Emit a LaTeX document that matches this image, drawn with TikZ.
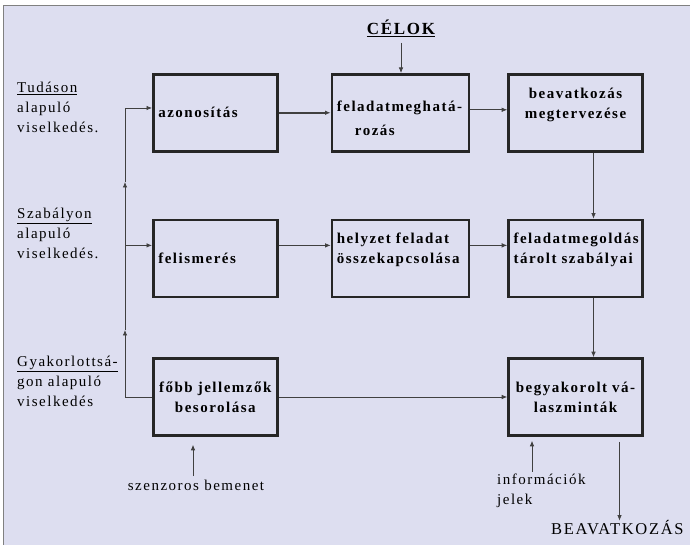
\documentclass[tikz,border=0pt]{standalone}
\usepackage{fontspec}
\setmainfont{Liberation Serif}[LetterSpace=10]
\usetikzlibrary{arrows.meta,positioning}
\definecolor{lavender}{RGB}{221,222,240}

\begin{document}
\begin{tikzpicture}[
  x=1pt, y=1pt,
  node distance=66pt and 52pt,
  box/.style={draw=black!85, line width=2.6pt, minimum height=77pt, inner sep=5pt, font=\fontsize{15}{20}\selectfont\bfseries},
  lbl/.style={align=left, anchor=north west, inner sep=0pt, font=\fontsize{15}{20}\selectfont},
  arr/.style={-{Latex[length=5.5pt,width=4.5pt]}, line width=0.7pt, draw=black!75},
  line/.style={line width=0.7pt, draw=black!75}
]
\useasboundingbox (0,0) rectangle (690,545);
\filldraw[fill=lavender, draw=gray, line width=1pt] (3,-10) rectangle (700,539);

% boxes
\node[box, anchor=north west, text width=114pt, align=left] (azon) at (152,472) {azonosítás};
\node[box, right=of azon, text width=127pt, align=left, text height=22pt] (felad) {feladatmeghatá-\\[4pt]\hspace*{18pt}rozás};
\node[box, right=37pt of felad, text width=124pt, align=center, text depth=40pt] (beav) {beavatkozás\\megtervezése};
\node[box, below=of azon, text width=114pt, align=left] (felism) {felismerés};
\node[box, below=of felad, text width=127pt, align=left, text depth=40pt] (helyzet) {helyzet~feladat\\összekapcsolása};
\node[box, below=of beav, text width=124pt, align=left, text depth=40pt] (szab) {feladatmegoldás\\tárolt~szabályai};
\node[box, below=59pt of felism, text width=114pt, align=center] (fobb) {főbb~jellemzők\\besorolása};
\node[box, below=59pt of szab, text width=124pt, align=center] (begy) {begyakorolt~vá-\\laszminták};

% labels
\node[lbl] (tudas) at (17,463) {\underline{Tudáson}\\alapuló\\viselkedés.};
\node[lbl] (szabaly) at (17,337) {\underline{Szabályon}\\alapuló\\viselkedés.};
\node[lbl] (gyak) at (17,189) {\underline{Gyakorlottsá-}\\gon alapuló\\viselkedés};
\node[font=\fontsize{17}{20}\selectfont\bfseries] (celok) at (401,517) {\underline{CÉLOK}};
\node[font=\fontsize{15}{20}\selectfont] (sens) at (196,60) {szenzoros bemenet};
\node[lbl] (info) at (497,71) {információk\\jelek};
\node[anchor=west, inner sep=0pt, font=\fontsize{16.5}{20}\selectfont] (out) at (551,17) {BEAVATKOZÁS};

% left feedback line
\coordinate (up1) at (125,215);
\coordinate (up2) at (125,363);
\coordinate (spine) at (125,437);
\draw[arr] (fobb.west) -| (up1);
\draw[arr] (up1) -- (up2);
\draw[line] (up2) -- (spine);
\draw[arr] (spine) -- (spine -| azon.west);
\draw[arr] ([yshift=13pt]felism.west -| spine) -- ([yshift=13pt]felism.west);

% connections
\draw[arr, line width=1.8pt] (azon.east) -- (azon.east -| felad.west);
\draw[arr] ([yshift=3pt]felad.east) -- ([yshift=3pt]felad.east -| beav.west);
\draw[arr] ([yshift=13pt]felism.east) -- ([yshift=13pt]felism.east -| helyzet.west);
\draw[arr] ([yshift=13pt]helyzet.east) -- ([yshift=13pt]helyzet.east -| szab.west);
\draw[arr] ([xshift=18pt]beav.south) -- ([xshift=18pt]szab.north);
\draw[arr] ([xshift=18pt]szab.south) -- ([xshift=18pt]begy.north);
\draw[arr] (fobb.east) -- (fobb.east -| begy.west);
\draw[arr, shorten <=3pt] (celok.south) -- (celok.south |- felad.north);
\draw[arr, shorten >=8pt] ([xshift=-3pt]sens.north) -- ([xshift=-3pt]sens.north |- fobb.south);
\draw[arr, shorten >=4pt] ([xshift=35pt,yshift=2pt]info.north west) -- ([xshift=35pt]info.north west |- begy.south);
\draw[arr, shorten <=5pt] ([xshift=44pt]begy.south) -- ([xshift=44pt]begy.south |- out.north);
\end{tikzpicture}
\end{document}
